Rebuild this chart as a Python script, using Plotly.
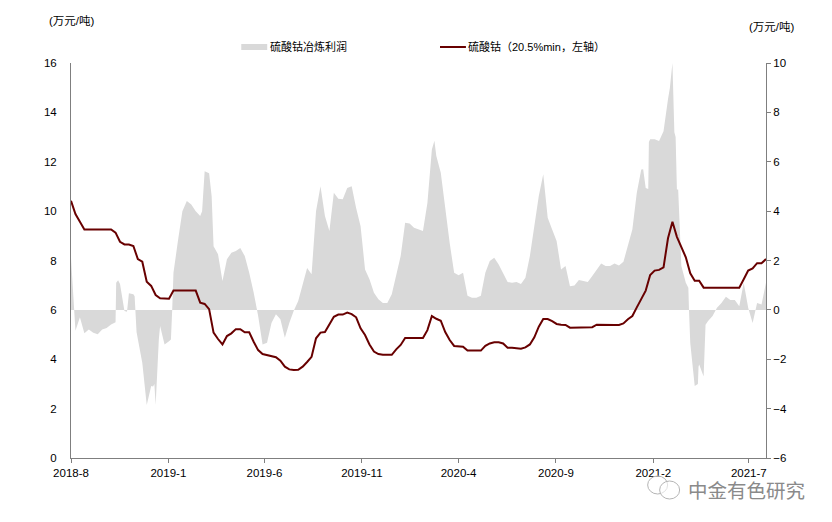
import pandas as pd
import plotly.graph_objects as go

# weekly readings from 2018-08-01
start_date = "2018-08-01"

# 硫酸钴 (20.5%min), 万元/吨, left axis
price = [
 10.42,9.88,9.57,9.26,9.26,9.26,9.26,9.26,9.26,9.26,
 9.13,8.76,8.65,8.65,8.59,8.06,7.95,7.14,6.97,6.60,
 6.47,6.45,6.45,6.78,6.78,6.78,6.78,6.78,6.78,6.29,
 6.24,6.03,5.08,4.82,4.60,4.94,5.05,5.22,5.22,5.09,
 5.09,4.71,4.37,4.21,4.17,4.10,4.08,3.94,3.70,3.59,
 3.56,3.57,3.70,3.89,4.10,4.85,5.08,5.10,5.39,5.72,
 5.81,5.81,5.89,5.83,5.70,5.25,4.98,4.60,4.31,4.21,
 4.18,4.18,4.18,4.40,4.58,4.86,4.86,4.86,4.86,4.86,
 5.18,5.75,5.64,5.56,5.10,4.78,4.54,4.54,4.51,4.35,
 4.35,4.35,4.35,4.54,4.64,4.69,4.69,4.64,4.47,4.47,
 4.45,4.43,4.48,4.60,4.89,5.32,5.63,5.63,5.54,5.43,
 5.40,5.39,5.28,5.28,5.28,5.28,5.28,5.30,
 5.40,5.39,5.39,5.39,5.39,5.39,5.45,5.62,5.75,6.10,
 6.47,6.78,7.41,7.59,7.62,7.72,8.90,9.57,8.96,8.53,
 8.13,7.48,7.18,7.18,6.90,6.90,6.90,6.90,6.90,6.90,
 6.90,6.90,6.90,7.24,7.59,7.68,7.89,7.89,8.06,
]

# 硫酸钴冶炼利润, 万元/吨, right axis
profit = [
 2.10,-0.85,-0.30,-0.95,-0.79,-0.93,-0.99,-0.79,-0.73,-0.59,
 -0.50,1.05,-0.05,0.67,0.63,-1.18,-2.14,-3.85,-3.08,-3.85,
 -0.65,-1.40,-1.27,1.50,2.79,4.00,4.41,4.27,4.00,3.80,
 5.62,5.53,2.58,2.25,1.17,2.05,2.31,2.38,2.51,2.18,
 1.50,0.70,-0.24,-1.40,-1.33,-0.53,-0.18,-0.38,-1.13,-0.53,
 -0.04,0.36,1.03,1.70,1.44,4.00,5.01,3.80,3.19,4.74,
 4.50,4.48,4.94,5.01,4.13,3.39,1.64,1.24,0.69,0.43,
 0.28,0.28,0.63,1.44,2.18,3.53,3.50,3.33,3.26,3.20,
 4.33,6.50,6.23,5.55,4.07,2.71,1.50,1.40,1.50,0.57,
 0.49,0.49,0.57,1.50,1.98,2.11,1.84,1.50,1.13,1.10,
 1.13,1.05,1.30,2.18,3.33,4.61,5.49,3.73,3.26,2.79,
 1.64,1.78,0.96,0.99,1.21,1.17,1.13,1.37,
 1.64,1.88,1.78,1.78,1.88,1.80,1.95,2.58,3.26,4.74,
 5.69,4.94,6.91,6.91,6.84,7.24,8.53,10.00,4.88,1.78,
 1.10,-1.34,-3.08,-2.21,-2.70,-0.45,-0.25,0.09,0.28,0.53,
 0.40,0.40,0.15,1.10,0.09,-0.53,0.28,0.22,1.10,
]

# extra profit readings between the weekly ones, where the area has sharp edges
profit_extra_days = [71,74,88,100,103,129,131,136,138,157,159,206,208,221,382,
                     571,899,902,907,908,941,948,950,954,957,970,971,985,986,997]
profit_extra_vals = [1.10,1.20,-0.08,0.55,-0.90,-3.10,-3.00,-2.00,-1.20,-1.20,0.00,4.00,4.90,4.60,2.85,
                     6.85,5.70,5.00,4.90,6.80,9.00,7.20,7.00,4.88,2.90,0.90,0.00,-3.00,-2.30,-0.60]

tick_dates = ["2018-08-01","2019-01-01","2019-06-01","2019-11-01",
              "2020-04-01","2020-09-01","2021-02-01","2021-07-01"]
tick_text = ["2018-8","2019-1","2019-6","2019-11","2020-4","2020-9","2021-2","2021-7"]
left_ticks = [0,2,4,6,8,10,12,14,16]
right_ticks = [-6,-4,-2,0,2,4,6,8,10]

dates = pd.date_range(start_date, periods=len(price), freq="7D")
t0 = pd.Timestamp(start_date)
area = pd.concat([
    pd.Series(profit, index=dates),
    pd.Series(profit_extra_vals, index=[t0 + pd.Timedelta(days=d) for d in profit_extra_days]),
]).sort_index()

# the page adds an 8 px body margin, so the figure is laid out 8 px in
OFF = 8
W, H = 832 - OFF, 522 - OFF
L, R, T, B = 70.5 - OFF, 766.5 - OFF, 63 - OFF, 458 - OFF
FONT = "Liberation Sans, Noto Sans CJK SC, sans-serif"
AXIS = "#7f7f7f"
px = lambda x: (x - OFF - L) / (R - L)
py = lambda y: (B - (y - OFF)) / (B - T)

fig = go.Figure()
fig.add_trace(go.Scatter(x=area.index, y=area.values, name="硫酸钴冶炼利润", mode="lines",
                         line=dict(width=0, color="#d9d9d9"), fill="tozeroy",
                         fillcolor="#d9d9d9", yaxis="y", showlegend=False))
fig.add_trace(go.Scatter(x=dates, y=price, name="硫酸钴（20.5%min，左轴）", mode="lines",
                         line=dict(width=2, color="#680000"), yaxis="y2", showlegend=False))

tick_font = dict(family=FONT, size=11.5, color="#000000")
fig.update_layout(
    width=W, height=H, autosize=False,
    margin=dict(l=L, r=W - R, t=T, b=H - B, pad=0),
    paper_bgcolor="white", plot_bgcolor="white",
    font=tick_font,
    showlegend=False,
    xaxis=dict(type="date", range=[dates[0], dates[-1]], tickmode="array",
               tickvals=tick_dates, ticktext=tick_text, ticks="outside", ticklen=4,
               tickcolor=AXIS, showline=True, linecolor=AXIS, linewidth=1,
               showgrid=False, zeroline=False, tickangle=0, tickfont=tick_font),
    yaxis=dict(side="right", range=[-6, 10], tickmode="array", tickvals=right_ticks,
               ticks="outside", ticklen=4, tickcolor=AXIS, showline=True, linecolor=AXIS,
               linewidth=1, showgrid=False, zeroline=False, tickfont=tick_font),
    yaxis2=dict(side="left", overlaying="y", range=[0, 16], tickmode="array",
                tickvals=left_ticks, ticks="outside", ticklen=11, tickcolor="rgba(0,0,0,0)",
                showline=True, linecolor=AXIS, linewidth=1,
                showgrid=False, zeroline=False, tickfont=tick_font),
)

def note(x, y, text, size=11, color="#000000"):
    fig.add_annotation(xref="paper", yref="paper", x=px(x), y=py(y), text=text,
                       showarrow=False, xanchor="left", yanchor="middle",
                       font=dict(family=FONT, size=size, color=color), borderpad=0)

note(47, 21, "(万元/吨)", size=11.5)
note(748, 27, "(万元/吨)", size=11.5)
note(269, 46, "硫酸钴冶炼利润")
note(467, 46, "硫酸钴（20.5%min，左轴）", size=11)
note(687, 491, "中金有色研究", size=19.5, color="#8a8a8a")

# legend swatches
fig.add_shape(type="rect", xref="paper", yref="paper", x0=px(241), x1=px(267), y0=py(44), y1=py(50),
              line=dict(width=0), fillcolor="#d9d9d9")
fig.add_shape(type="line", xref="paper", yref="paper", x0=px(440), x1=px(466), y0=py(47), y1=py(47),
              line=dict(width=2, color="#680000"))

# watermark icon
for x0, y0, x1, y1 in [(648, 476, 668, 494), (660, 481, 680, 499)]:
    fig.add_shape(type="circle", xref="paper", yref="paper",
                  x0=px(x0), x1=px(x1), y0=py(y0), y1=py(y1),
                  line=dict(color="#b5b5b5", width=1), fillcolor="rgba(255,255,255,0.6)")

fig.write_html("out.html")
